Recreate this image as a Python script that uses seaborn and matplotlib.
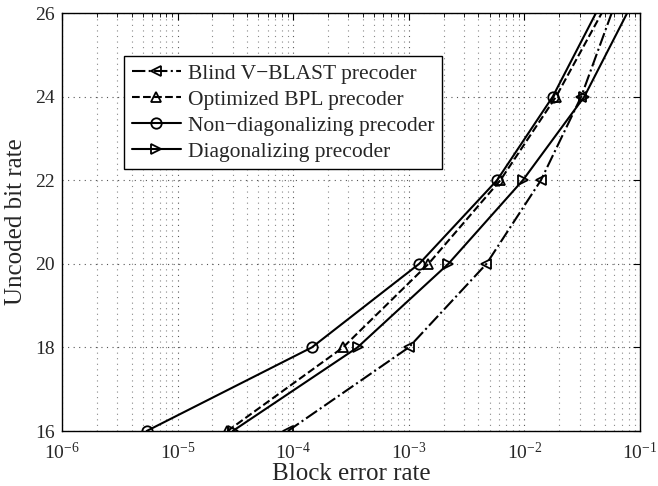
import matplotlib
matplotlib.use("Agg")
import matplotlib.pyplot as plt
import matplotlib.ticker as mticker
import numpy as np
import pandas as pd
import seaborn as sns

# Uncoded bit rate levels (the last one lies above the visible range)
rate = [16, 18, 20, 22, 24, 28]

# Block error rate for each precoder
blind_vblast = [9.0e-5, 1.0e-3, 4.7e-3, 1.39e-2, 3.1e-2, 0.1045]
optimized_bpl = [2.7e-5, 2.7e-4, 1.48e-3, 6.2e-3, 1.88e-2, 0.116]
non_diag = [5.4e-6, 1.45e-4, 1.23e-3, 5.8e-3, 1.76e-2, 0.0984]
diag = [3.0e-5, 3.6e-4, 2.2e-3, 9.7e-3, 3.3e-2, 0.182]

labels = [
    "Blind V\u2212BLAST precoder",
    "Optimized BPL precoder",
    "Non\u2212diagonalizing precoder",
    "Diagonalizing precoder",
]
x_ticks = [1e-6, 1e-5, 1e-4, 1e-3, 1e-2, 1e-1]
y_ticks = [16, 18, 20, 22, 24, 26]

sns.set_style("white")
plt.rcParams["font.family"] = ["Liberation Serif", "DejaVu Serif"]
plt.rcParams["mathtext.fontset"] = "stix"
plt.rcParams["xtick.direction"] = "in"
plt.rcParams["ytick.direction"] = "in"

fig = plt.figure(figsize=(6.58, 4.86), dpi=100)
ax = fig.add_axes([62 / 658, 55 / 486, 578 / 658, 418 / 486])

styles = [("-.", "<"), ("--", "^"), ("-", "o"), ("-", ">")]
for series, label, (ls, mk) in zip(
    [blind_vblast, optimized_bpl, non_diag, diag], labels, styles
):
    df = pd.DataFrame({"ber": series, "rate": rate})
    sns.lineplot(
        data=df, x="ber", y="rate", ax=ax, sort=False, color="black",
        linestyle=ls, marker=mk, markersize=7.5, markerfacecolor="none",
        markeredgecolor="black", markeredgewidth=1.3, linewidth=1.5,
        label=label,
    )

ax.set_xscale("log")
ax.set_xlim(1e-6, 1e-1)
ax.set_ylim(16, 26)
ax.set_xticks(x_ticks)
ax.set_yticks(y_ticks)
ax.xaxis.set_minor_locator(mticker.LogLocator(base=10, subs=np.arange(2, 10), numticks=20))
ax.xaxis.set_minor_formatter(mticker.NullFormatter())

ax.grid(True, which="major", axis="both", linestyle=(0, (1, 4)), color="#555555", linewidth=0.8)
ax.grid(True, which="minor", axis="x", linestyle=(0, (1, 4)), color="#888888", linewidth=0.8)
ax.tick_params(which="both", top=True, right=True, color="black")
ax.tick_params(axis="x", which="major", labelsize=14, pad=8)
ax.tick_params(axis="y", which="major", labelsize=14, pad=5)
ax.tick_params(which="major", length=5, width=0.8)
ax.tick_params(which="minor", length=3, width=0.6)
for sp in ax.spines.values():
    sp.set_color("black")
    sp.set_linewidth(1.0)

ax.set_xlabel("Block error rate", fontsize=18, labelpad=0)
ax.set_ylabel("Uncoded bit rate", fontsize=18, labelpad=6)

leg = ax.legend(
    loc="upper left", bbox_to_anchor=(62 / 578, 375 / 418), borderaxespad=0,
    fontsize=15.5, handlelength=2.3, handletextpad=0.3, labelspacing=0.28,
    borderpad=0.35, fancybox=False, framealpha=1, edgecolor="black",
)
leg.get_frame().set_linewidth(1.0)

fig.savefig("out.png", dpi=100)
